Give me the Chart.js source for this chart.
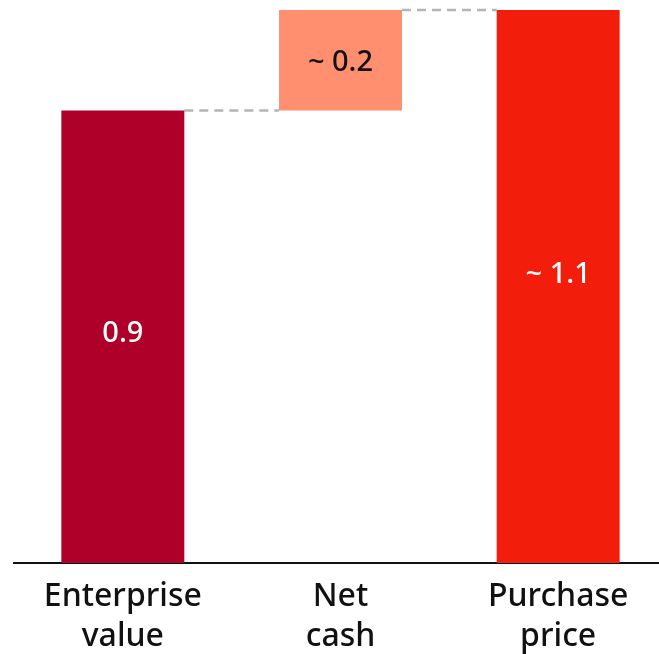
<!DOCTYPE html>
<html>
<head>
<meta charset="utf-8">
<script src="https://cdn.jsdelivr.net/npm/chart.js@4.4.0/dist/chart.umd.min.js"></script>
<style>
html,body{margin:0;padding:0;background:#fff;overflow:hidden;}
#wrap{width:668px;height:671px;}
</style>
</head>
<body>
<div id="wrap"><canvas id="c" width="668" height="671"></canvas></div>
<script>
const categories = [["Enterprise","value"],["Net","cash"],["Purchase","price"]];
const barStarts = [0, 0.9, 0];
const barEnds = [0.9, 1.1, 1.1];
const valueLabels = ["0.9", "~ 0.2", "~ 1.1"];
const barColors = ["#AE0028", "#FF8F6E", "#F21E0B"];
const labelColors = ["#FFFFFF", "#111111", "#FFFFFF"];

const FONT = "'Noto Sans', 'Open Sans', sans-serif";

const connectorPlugin = {
  id: 'connectors',
  beforeDatasetsDraw(chart) {
    const ctx = chart.ctx;
    const meta = chart.getDatasetMeta(0);
    const y = chart.scales.y;
    ctx.save();
    ctx.strokeStyle = '#B4B4B4';
    ctx.lineWidth = 2.5;
    ctx.setLineDash([9, 6]);
    for (let i = 0; i < meta.data.length - 1; i++) {
      const a = meta.data[i], b = meta.data[i + 1];
      const py = y.getPixelForValue(barEnds[i]);
      ctx.beginPath();
      ctx.moveTo(a.x + a.width / 2, py);
      ctx.lineTo(b.x - b.width / 2, py);
      ctx.stroke();
    }
    ctx.restore();
  }
};

const labelOffsets = [-3, 2, -12];
const labelPlugin = {
  id: 'valueLabels',
  afterDatasetsDraw(chart) {
    const ctx = chart.ctx;
    const meta = chart.getDatasetMeta(0);
    ctx.save();
    ctx.font = "500 29px " + FONT;
    ctx.textAlign = 'center';
    ctx.textBaseline = 'middle';
    meta.data.forEach((bar, i) => {
      const cy = (bar.y + bar.base) / 2 + labelOffsets[i];
      ctx.fillStyle = labelColors[i];
      ctx.fillText(valueLabels[i], bar.x, cy);
    });
    ctx.restore();
  }
};

new Chart(document.getElementById('c'), {
  type: 'bar',
  data: {
    labels: categories,
    datasets: [{
      data: barStarts.map((s, i) => [s, barEnds[i]]),
      backgroundColor: barColors,
      borderWidth: 0,
      categoryPercentage: 1,
      barPercentage: 0.565
    }]
  },
  options: {
    responsive: false,
    animation: false,
    devicePixelRatio: 1,
    layout: { padding: { left: 14, right: 1, top: 10, bottom: 0 } },
    plugins: { legend: { display: false }, tooltip: { enabled: false } },
    scales: {
      x: {
        grid: { display: false, drawTicks: false },
        border: { display: true, color: '#111111', width: 2 },
        ticks: {
          color: '#111111',
          padding: 14,
          font: { family: FONT, size: 32, weight: '500', lineHeight: 1.25 },
          maxRotation: 0,
          autoSkip: false
        }
      },
      y: {
        display: false,
        min: 0,
        max: 1.1
      }
    }
  },
  plugins: [connectorPlugin, labelPlugin]
});
</script>
</body>
</html>
